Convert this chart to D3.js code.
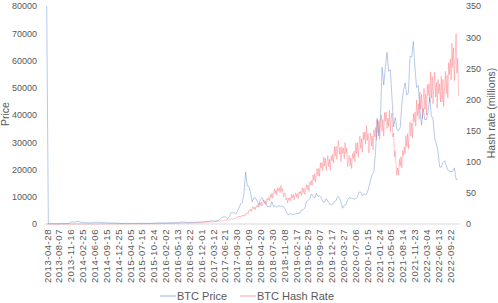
<!DOCTYPE html>
<html>
<head>
<meta charset="utf-8">
<script src="https://cdn.jsdelivr.net/npm/d3@7"></script>
<style>
  html, body { margin: 0; padding: 0; background: #fff; }
  svg { display: block; }
  text { font-family: "Liberation Sans", Arial, sans-serif; fill: #595959; }
</style>
</head>
<body>
<div id="chart"></div>
<script>
// ---------------- DATA ----------------
const categoryLabels = [
  "2013-04-28","2013-08-07","2013-11-16","2014-02-25","2014-06-06","2014-09-15","2014-12-25",
  "2015-04-05","2015-07-15","2015-10-24","2016-02-02","2016-05-13","2016-08-22","2016-12-01",
  "2017-03-12","2017-06-21","2017-09-30","2018-01-09","2018-04-20","2018-07-30","2018-11-08",
  "2019-02-17","2019-05-29","2019-09-07","2019-12-17","2020-03-27","2020-07-06","2020-10-15",
  "2021-01-24","2021-05-05","2021-08-14","2021-11-23","2022-03-04","2022-06-13","2022-09-22"
];
const dateRange = ["2013-04-28", "2022-12-07"];

const priceTicks = [0, 10000, 20000, 30000, 40000, 50000, 60000, 70000, 80000];
const hashTicks = [0, 50, 100, 150, 200, 250, 300, 350];

// BTC price, every 14 days from 2013-04-28 (first value is the spike at the start of the series)
const priceStart = "2013-04-28";
const priceStepDays = 14;
const btcPrice = [
  80000,115,130,100,105,75,90,100,105,135,130,140,145,190,330,800,800,650,
  900,850,820,600,560,630,450,420,440,440,590,650,590,630,620,590,500,480,475,375,375,355,340,365,375,320,
  265,210,225,235,260,285,250,235,220,240,240,225,245,260,275,280,260,230,230,235,245,285,370,325,390,440,
  430,385,375,400,435,415,420,420,460,460,440,575,760,700,675,625,570,575,605,605,615,655,710,730,765,790,
  1000,820,920,1000,1180,1230,970,1190,1250,1550,2050,2500,2650,2500,1930,2750,4000,4350,4200,3700,4600,6000,7400,8000,11200,19100,14000,
  13800,11500,8100,9600,9500,8400,7000,8900,9700,8300,7700,6500,6400,6300,8200,6300,6700,6200,6700,6600,6500,6400,5600,4100,3200,3900,
  3500,3550,3650,3850,3900,4000,5100,5300,5800,8200,8700,9300,11000,10200,9500,11300,10100,10400,9700,8000,8200,9300,8500,7400,7100,7300,
  8200,8600,10100,9700,8000,5800,6800,7100,8900,9700,9500,9400,9100,9300,9900,11700,11700,10300,10900,10700,11500,13700,16000,18200,19200,26500,
  38300,32300,39300,57500,51000,57500,63000,56000,56600,46500,35600,39000,34700,34200,35400,43800,49300,51800,47300,48200,61500,61300,67000,57200,50100,50800,
  41800,36300,42400,38300,38400,41300,46400,39700,38500,31300,29400,26600,21000,20800,22600,23200,21500,19800,19400,19300,19300,20600,16300,16500
];

// BTC hash rate (millions), monthly 2013-04-28 .. 2016-12-28
const hashMonthlyStart = "2013-04-28";
const hashMonthly = [
  0.0001,0.0001,0.0002,0.0003,0.0005,0.001,0.003,0.005,0.008,
  0.012,0.02,0.03,0.045,0.07,0.1,0.13,0.18,0.23,0.27,0.28,0.3,
  0.3,0.32,0.33,0.35,0.36,0.37,0.4,0.42,0.44,0.47,0.5,0.7,
  0.8,1.0,1.2,1.3,1.4,1.5,1.5,1.5,1.7,1.9,2.0,2.2
];
// BTC hash rate (millions), weekly from 2017-01-01
const hashWeeklyStart = "2017-01-01";
const hashWeekly = [
  2.9,2.5,3.2,2.9,3.3,2.7,3.2,3.6,3.1,3.5,3.0,3.9,3.6,4.0,3.5,4.5,4.1,4.8,4.0,4.9,5.5,4.8,5.6,4.8,6.3,5.9,
  6.6,5.8,7.3,6.5,7.5,6.4,7.7,8.7,7.5,8.8,7.7,10.0,9.5,10.8,9.7,12.4,11.0,12.8,10.6,12.6,14.2,12.3,14.4,12.5,16.4,15.7,
  18,16.4,22,20.4,24,20,24.5,27.8,23.7,27,23.2,29.7,27.4,30.7,26.8,33.9,30.1,34.9,29,34.7,38.9,33,37.4,31.8,41,38.2,
  42.4,37.3,47.5,42.2,49,41.4,50,56.6,48.4,55,46.4,58.3,53.4,58.3,50,62,52.4,56.7,43,48,50,39,41.6,33.5,41.6,38.2,
  42.4,37.3,47.5,41.7,47.4,38.7,45.4,50,42.8,48.9,40.9,51.8,48,52.5,45.5,57.6,50.4,57.8,47.5,56,63,55,62.4,52.5,67.5,62.7,
  70,61.9,79,70,80.7,67,79.6,89,77,89.4,76.5,98.3,90,98.6,85.5,107.4,93,105.7,85.8,100,110,92,104,86,109,101,
  112,98,124,109,125,104,122,134,112,123,100,124,113,122,105,131,113,122,92,102,110,93,106,89,113,105,
  117,100,130,113,131,107,127,141,121,137,115,147,135,148,128,158,134,145,114,133,146,125,141,119,151,140,
  155,135,170,146,166,136,159,175,149,168,141,179,165,180,153,170,157,182,148,169,178,140,146,108,117,93,
  78,90,79,104,93,108,90,118,110,124,113,142,124,145,121,146,164,141,162,138,177,164,180,157,199,174,
  193,168,212,184,208,169,198,218,184,209,175,224,206,225,195,244,202,237,193,224,244,204,227,186,232,209,
  225,196,237,196,232,189,222,245,209,239,202,259,240,265,231,290,251,283,230,267,305,242,266,205
];

// ---------------- CHART ----------------
const W = 498, H = 303;
const parse = d3.utcParse("%Y-%m-%d");

const priceData = btcPrice.map((v, i) => ({ date: d3.utcDay.offset(parse(priceStart), i * priceStepDays), value: v }));
const hashData = hashMonthly.map((v, i) => ({ date: d3.utcMonth.offset(parse(hashMonthlyStart), i), value: v }))
  .concat(hashWeekly.map((v, i) => ({ date: d3.utcDay.offset(parse(hashWeeklyStart), i * 7), value: v })));

const x = d3.scaleUtc().domain(dateRange.map(parse)).range([46.7, 458.9]);
const yPrice = d3.scaleLinear().domain([0, 80000]).range([224, 6]);
const yHash = d3.scaleLinear().domain([0, 350]).range([224, 6]);

const svg = d3.select("#chart").append("svg").attr("width", W).attr("height", H);

// baseline
svg.append("line")
  .attr("x1", 45).attr("x2", 460)
  .attr("y1", yPrice(0)).attr("y2", yPrice(0))
  .attr("stroke", "#d9d9d9").attr("stroke-width", 1);

// left axis
const gL = svg.append("g").attr("transform", "translate(41,0)")
  .call(d3.axisLeft(yPrice).tickValues(priceTicks).tickSize(0).tickPadding(4).tickFormat(d3.format("d")));
gL.select(".domain").remove();
gL.selectAll("text").style("font-size", "9px").attr("fill", "#595959");

// right axis
const gR = svg.append("g").attr("transform", "translate(462,0)")
  .call(d3.axisRight(yHash).tickValues(hashTicks).tickSize(0).tickPadding(4));
gR.select(".domain").remove();
gR.selectAll("text").style("font-size", "9px").attr("fill", "#595959");

// bottom axis (category labels)
const gB = svg.append("g").attr("transform", `translate(0,${yPrice(0)})`)
  .call(d3.axisBottom(x).tickValues(categoryLabels.map(parse)).tickSize(0).tickFormat(d3.utcFormat("%Y-%m-%d")));
gB.select(".domain").remove();
gB.selectAll("text")
  .style("font-size", "9.5px")
  .style("letter-spacing", "0.55px")
  .attr("fill", "#595959")
  .attr("text-anchor", "end")
  .attr("transform", "rotate(-90)")
  .attr("x", -5).attr("y", 0).attr("dy", "0.35em");

// lines
const hashLine = d3.line().x(d => x(d.date)).y(d => yHash(d.value));
const priceLine = d3.line().x(d => x(d.date)).y(d => yPrice(d.value));

svg.append("path").datum(hashData)
  .attr("d", hashLine).attr("fill", "none")
  .attr("stroke", "#ff5a64").attr("stroke-opacity", 0.4).attr("stroke-width", 0.9);

svg.append("path").datum(priceData)
  .attr("d", priceLine).attr("fill", "none")
  .attr("stroke", "#4f7fcc").attr("stroke-opacity", 0.55).attr("stroke-width", 0.75);

// axis titles
svg.append("text").attr("transform", "translate(9,114) rotate(-90)")
  .attr("text-anchor", "middle").style("font-size", "10.5px").text("Price");
svg.append("text").attr("transform", "translate(495,113) rotate(-90)")
  .attr("text-anchor", "middle").style("font-size", "10.5px").text("Hash rate (millions)");

// legend
const legend = [
  { label: "BTC Price", color: "#a9c0e6", x: 160 },
  { label: "BTC Hash Rate", color: "#ffb3b6", x: 240 }
];
const lg = svg.append("g").selectAll("g").data(legend).join("g")
  .attr("transform", d => `translate(${d.x},296)`);
lg.append("line").attr("x1", 0).attr("x2", 16).attr("y1", 0).attr("y2", 0)
  .attr("stroke", d => d.color).attr("stroke-width", 1.2);
lg.append("text").attr("x", 17).attr("dy", "0.36em").style("font-size", "11px").text(d => d.label);
</script>
</body>
</html>
